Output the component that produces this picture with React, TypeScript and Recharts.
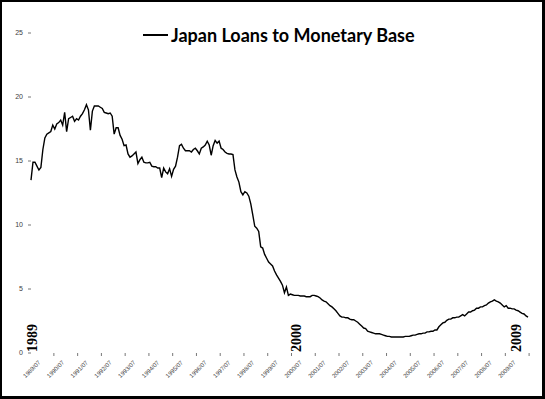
import React from "react";
import { LineChart, Line, XAxis, YAxis, ReferenceLine } from "recharts";

// Monthly categories 1989/01 .. 2009/12
const startYear = 1989;
const endYear = 2009;
const months: string[] = [];
for (let y = startYear; y <= endYear; y++) {
  for (let m = 1; m <= 12; m++) {
    months.push(`${y}/${m < 10 ? "0" + m : m}`);
  }
}

// Japan loans to monetary base ratio
const ratio: number[] = [
  // 1989
  13.5, 14.9, 14.9, 14.6, 14.3, 14.5, 15.9, 16.8, 17.1, 17.2, 17.3, 17.8,
  // 1990
  17.5, 17.9, 18.0, 18.2, 17.8, 18.8, 17.3, 18.3, 18.4, 18.5, 18.1, 18.3,
  // 1991
  18.2, 18.5, 18.7, 19.0, 19.4, 19.0, 17.4, 18.9, 19.3, 19.3, 19.3, 19.2,
  // 1992
  19.1, 18.8, 18.75, 18.7, 18.75, 18.5, 17.1, 17.6, 17.6, 17.0, 16.7, 16.2,
  // 1993
  16.25, 15.55, 15.3, 15.4, 15.55, 15.7, 14.8, 15.1, 15.3, 14.9, 14.85, 14.85,
  // 1994
  14.9, 14.6, 14.55, 14.55, 14.45, 14.45, 13.7, 14.45, 14.15, 14.0, 14.4, 13.8,
  // 1995
  14.35, 14.6, 15.3, 16.2, 16.3, 16.0, 15.8, 15.8, 15.8, 15.7, 15.9, 16.0,
  // 1996
  15.8, 15.55, 16.0, 16.1, 16.25, 16.55, 16.25, 15.45, 16.2, 16.6, 16.4, 16.55,
  // 1997
  16.0, 15.9, 15.7, 15.6, 15.55, 15.55, 15.5, 14.3, 13.75, 13.35, 12.6, 12.35,
  // 1998
  12.6, 12.5, 12.25, 11.65, 10.8, 9.9, 9.75, 9.5, 8.3, 8.2, 7.7, 7.4,
  // 1999
  7.1, 6.95, 6.8, 6.4, 6.1, 5.85, 5.6, 5.3, 4.7, 5.15, 4.5, 4.6,
  // 2000
  4.55, 4.5, 4.5, 4.5, 4.45, 4.45, 4.45, 4.4, 4.4, 4.4, 4.5, 4.5,
  // 2001
  4.45, 4.4, 4.3, 4.15, 4.05, 4.0, 3.85, 3.7, 3.6, 3.45, 3.3, 3.1,
  // 2002
  2.9, 2.8, 2.8, 2.75, 2.75, 2.65, 2.6, 2.6, 2.5, 2.4, 2.25, 2.1,
  // 2003
  1.95, 1.9, 1.7, 1.65, 1.6, 1.55, 1.5, 1.5, 1.5, 1.45, 1.4, 1.35,
  // 2004
  1.3, 1.3, 1.25, 1.25, 1.25, 1.25, 1.25, 1.25, 1.25, 1.3, 1.3, 1.3,
  // 2005
  1.35, 1.4, 1.4, 1.45, 1.5, 1.5, 1.55, 1.55, 1.65, 1.65, 1.7, 1.7,
  // 2006
  1.8, 1.8, 2.05, 2.2, 2.35, 2.4, 2.55, 2.65, 2.65, 2.75, 2.75, 2.8,
  // 2007
  2.8, 2.9, 3.0, 2.9, 3.05, 3.2, 3.2, 3.3, 3.35, 3.5, 3.5, 3.6,
  // 2008
  3.6, 3.7, 3.75, 3.9, 4.0, 4.05, 4.15, 4.05, 4.0, 3.9, 3.75, 3.6,
  // 2009
  3.7, 3.5, 3.5, 3.45, 3.45, 3.35, 3.3, 3.2, 3.1, 3.05, 2.9, 2.8,
];

const xTicks: string[] = [];
for (let y = startYear; y <= endYear; y++) xTicks.push(`${y}/07`);

const yTicks: number[] = [0, 5, 10, 15, 20, 25];

const yearMarks: { at: string; label: string }[] = [
  { at: "1989/02", label: "1989" },
  { at: "2000/03", label: "2000" },
  { at: "2009/06", label: "2009" },
];

const data = months.map((m, i) => ({ month: m, value: ratio[i] }));

const XTick = (props: any) => {
  const { x, y, payload } = props;
  return (
    <g>
      <line x1={x + 11} y1={y} x2={x + 11} y2={y + 3} stroke="#777" strokeWidth={1} />
      <text
        x={x - 2}
        y={y + 10}
        textAnchor="end"
        fontSize={6}
        fill="#404040"
        fontFamily="Liberation Sans, Arial, sans-serif"
        transform={`rotate(-45, ${x - 2}, ${y + 10})`}
      >
        {payload.value}
      </text>
    </g>
  );
};

const YearLabel = (props: any) => {
  const { viewBox, value } = props;
  const x = viewBox.x;
  const y = 352;
  return (
    <text
      x={x}
      y={y}
      transform={`rotate(-90, ${x}, ${y})`}
      textAnchor="start"
      dominantBaseline="central"
      fontSize={14}
      fontWeight="bold"
      fontFamily="Liberation Serif, serif"
      fill="#000"
    >
      {value}
    </text>
  );
};

export default function App() {
  return (
    <div style={{ position: "fixed", left: 0, top: 0, width: 545, height: 399, background: "#fff" }}>
      <LineChart
        width={545}
        height={399}
        data={data}
        margin={{ top: 33, right: 17, bottom: 0, left: 0 }}
      >
        <XAxis
          dataKey="month"
          ticks={xTicks}
          interval={0}
          axisLine={false}
          tickLine={false}
          tickSize={0}
          tickMargin={0}
          height={46}
          tick={<XTick />}
        />
        <YAxis
          domain={[0, 25]}
          ticks={yTicks}
          width={31}
          axisLine={false}
          tickSize={3}
          tickMargin={5}
          tickLine={{ stroke: "#777" }}
          tick={{ fontSize: 7, fill: "#404040", fontFamily: "Liberation Sans, Arial, sans-serif" }}
        />
        {yearMarks.map((ym) => (
          <ReferenceLine
            key={ym.label}
            x={ym.at}
            stroke="none"
            label={<YearLabel value={ym.label} />}
          />
        ))}
        <Line
          type="linear"
          dataKey="value"
          stroke="#000"
          strokeWidth={1.4}
          dot={false}
          isAnimationActive={false}
        />
      </LineChart>
      <div
        style={{
          position: "absolute",
          left: 143,
          top: 24,
          display: "flex",
          alignItems: "center",
          fontFamily: "Lato, 'Open Sans', sans-serif",
          fontWeight: "bold",
          fontSize: 18,
          color: "#000",
          whiteSpace: "nowrap",
        }}
      >
        <svg width={25} height={4} style={{ marginRight: 3 }}>
          <line x1={0} y1={2} x2={25} y2={2} stroke="#000" strokeWidth={2} />
        </svg>
        <span>Japan Loans to Monetary Base</span>
      </div>
      <div
        style={{
          position: "absolute",
          left: 0,
          top: 0,
          width: 545,
          height: 399,
          boxSizing: "border-box",
          borderTop: "2px solid #000",
          borderLeft: "2px solid #000",
          borderRight: "3px solid #000",
          borderBottom: "3px solid #000",
          pointerEvents: "none",
        }}
      />
    </div>
  );
}
